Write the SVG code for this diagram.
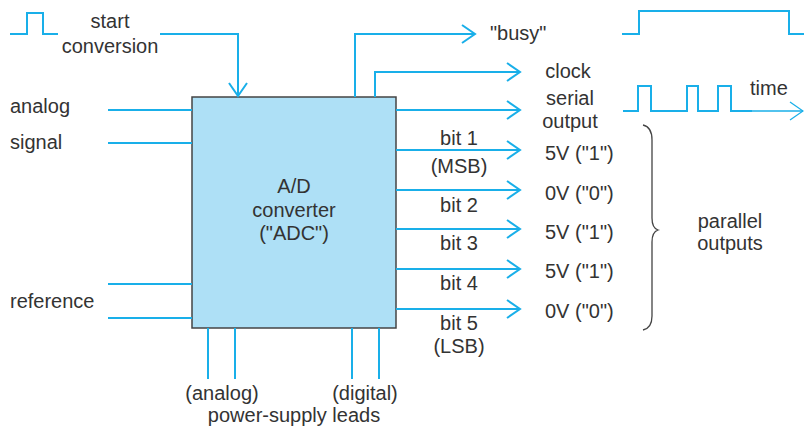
<svg xmlns="http://www.w3.org/2000/svg" width="804" height="428" viewBox="0 0 804 428">
<defs>
<style>
.w{fill:none;stroke:#19afe9;stroke-width:2}
.t{fill:none;stroke:#19afe9;stroke-width:1.3}
.a{fill:none;stroke:#19afe9;stroke-width:2;marker-end:url(#ar)}
text{font-family:"Liberation Sans",Arial,sans-serif;font-size:20px;fill:#333}
.c{text-anchor:middle}
</style>
<marker id="ar" markerUnits="userSpaceOnUse" markerWidth="20" markerHeight="24" refX="0" refY="0" viewBox="-15 -12 17 24" orient="auto">
<path d="M-13,-9 L0,0 L-13,9" fill="none" stroke="#19afe9" stroke-width="2"/>
</marker>
<marker id="ar2" markerUnits="userSpaceOnUse" markerWidth="20" markerHeight="24" refX="0" refY="0" viewBox="-15 -12 17 24" orient="auto">
<path d="M-13,-9 L0,0 L-13,9" fill="none" stroke="#19afe9" stroke-width="1.3"/>
</marker>
</defs>
<rect width="804" height="428" fill="#fff"/>

<g id="adc">
<rect x="192" y="97" width="204" height="231" fill="#aee0f6" stroke="#444" stroke-width="1.5"/>
<text class="c" x="294" y="193">A/D</text>
<text class="c" x="294" y="217">converter</text>
<text class="c" x="294" y="240">("ADC")</text>
</g>

<g id="connectors">
<path class="w" d="M10,34 H27 V13 H43 V34 H58"/>
<path class="a" d="M160,34 H238 V96"/>
<path class="a" d="M355,97 V34 H475"/>
<path class="a" d="M375,97 V72 H520"/>
<path class="a" d="M396,110 H520"/>
<path class="w" d="M622,34 H639 V11 H789 V34 H804"/>
<path class="w" d="M623,111 H638 V86 H651 V111 H687 V86 H698 V111 H718 V86 H731 V111 H752"/>
<path class="t" d="M752,111 H803" marker-end="url(#ar2)"/>
<path class="w" d="M108,110 H192 M108,143 H192 M108,284 H192 M108,318 H192"/>
<path class="a" d="M396,150 H520"/>
<path class="a" d="M396,190 H520"/>
<path class="a" d="M396,229 H520"/>
<path class="a" d="M396,269 H520"/>
<path class="a" d="M396,309 H520"/>
<path class="w" d="M208,328 V379 M235,328 V379 M352,328 V379 M379,328 V379"/>
<path d="M643,125 Q652,127 652,140 V218 Q652,228 658,230 Q652,232 652,242 V316 Q652,328 643,330" fill="none" stroke="#444" stroke-width="1.3"/>
</g>

<g id="labels">
<text class="c" x="110" y="28">start</text>
<text class="c" x="110" y="53">conversion</text>
<text x="490" y="40">"busy"</text>
<text class="c" x="568" y="78">clock</text>
<text class="c" x="570" y="105">serial</text>
<text class="c" x="570" y="128">output</text>
<text x="750" y="95">time</text>
<text x="10" y="113">analog</text>
<text x="10" y="149">signal</text>
<text x="10" y="308">reference</text>
<text class="c" x="459" y="145">bit 1</text>
<text class="c" x="459" y="173">(MSB)</text>
<text class="c" x="459" y="212">bit 2</text>
<text class="c" x="459" y="250">bit 3</text>
<text class="c" x="459" y="290">bit 4</text>
<text class="c" x="459" y="330">bit 5</text>
<text class="c" x="459" y="353">(LSB)</text>
<text x="545" y="160">5V ("1")</text>
<text x="545" y="200">0V ("0")</text>
<text x="545" y="239">5V ("1")</text>
<text x="545" y="278">5V ("1")</text>
<text x="545" y="318">0V ("0")</text>
<text class="c" x="730" y="228">parallel</text>
<text class="c" x="730" y="250">outputs</text>
<text class="c" x="222" y="400">(analog)</text>
<text class="c" x="365" y="400">(digital)</text>
<text class="c" x="294" y="422">power-supply leads</text>
</g>
</svg>
